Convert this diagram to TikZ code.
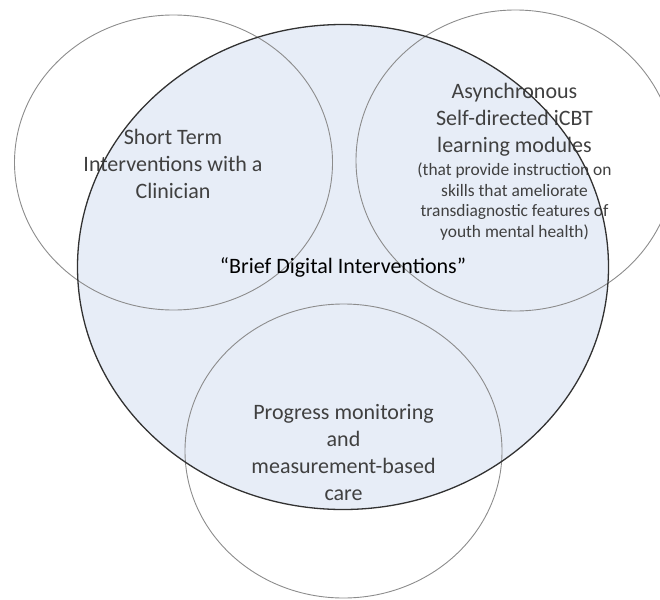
\documentclass[tikz,border=0pt]{standalone}
\usepackage{fontspec}
\setmainfont{Carlito}
\definecolor{bluefill}{RGB}{231,237,247}
\definecolor{ringgray}{RGB}{140,140,140}
\definecolor{outlinedark}{RGB}{50,50,50}
\definecolor{labelgray}{RGB}{64,64,64}
\tikzset{
  ring/.style={draw=ringgray, line width=0.9pt},
  bigtext/.style={align=center, text=labelgray, font=\fontsize{22}{27}\selectfont, inner sep=0pt},
  smalltext/.style={align=center, text=labelgray, font=\fontsize{17.4}{20.6}\selectfont, inner sep=0pt},
  maintext/.style={text=black, font=\fontsize{22}{27}\selectfont, inner sep=0pt}
}
\begin{document}
\begin{tikzpicture}[x=1pt,y=-1pt]
\useasboundingbox (0,0) rectangle (660,599);
\clip (0,0) rectangle (660,599);
% big ellipse fill
\fill[bluefill] (343,267) ellipse [x radius=265.5pt, y radius=242.5pt];
% three circles
\draw[ring] (173.5,162.5) ellipse [x radius=159pt, y radius=147.5pt];
\draw[ring] (515.5,160.5) ellipse [x radius=159.5pt, y radius=150.5pt];
\draw[ring] (343.5,451) ellipse [x radius=158.5pt, y radius=147pt];
% labels
\node[bigtext] (left) at (173,164) {Short Term\\Interventions with a\\Clinician};
\node[bigtext] (rightbig) at (514.5,120) {Asynchronous\\Self-directed iCBT\\learning modules};
\node[smalltext] (rightsmall) at (514.5,201.5) {(that provide instruction on\\skills that ameliorate\\transdiagnostic features of\\youth mental health)};
\node[bigtext] (bottom) at (343.5,453) {Progress monitoring\\and\\measurement-based\\care};
\node[maintext] (brief) at (343,267) {“Brief Digital Interventions”};
% big ellipse outline
\draw[outlinedark, line width=1.3pt] (343,267) ellipse [x radius=265.5pt, y radius=242.5pt];
\end{tikzpicture}
\end{document}
